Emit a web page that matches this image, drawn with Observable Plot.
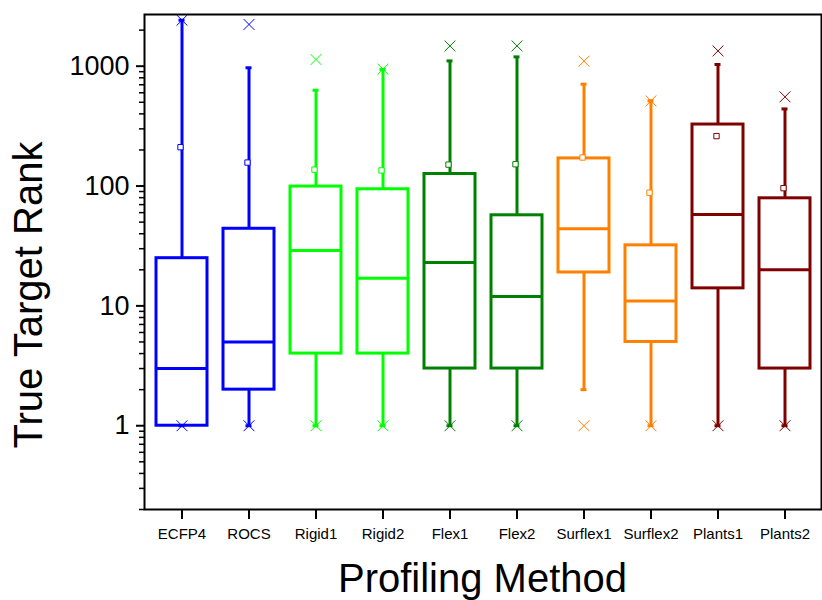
<!DOCTYPE html>
<html>
<head>
<meta charset="utf-8">
<script src="https://cdn.jsdelivr.net/npm/d3@7"></script>
<script src="https://cdn.jsdelivr.net/npm/@observablehq/plot@0.6"></script>
<style>
  html, body { margin: 0; padding: 0; background: white; }
</style>
</head>
<body>
<div id="chart"></div>
<script>
const categories = ["ECFP4","ROCS","Rigid1","Rigid2","Flex1","Flex2","Surflex1","Surflex2","Plants1","Plants2"];
const colors = ["#0000ff","#0000ff","#00ff00","#00ff00","#008000","#008000","#ff8000","#ff8000","#800000","#800000"];
const whiskerLow  = [1, 1, 1, 1, 1, 1, 2, 1, 1, 1];
const q1          = [1, 2, 4, 4, 3, 3, 19, 5, 14, 3];
const median      = [3, 5, 29, 17, 23, 12, 44, 11, 58, 20];
const q3          = [25, 44, 99, 94, 126, 57, 170, 32, 326, 79];
const whiskerHigh = [2420, 970, 630, 940, 1107, 1196, 708, 515, 1033, 440];
const meanVal     = [211, 157, 137, 135, 151, 152, 173, 88, 261, 96];
const minVal      = [1, 1, 1, 1, 1, 1, 1, 1, 1, 1];
const maxVal      = [2420, 2230, 1137, 944, 1477, 1477, 1101, 514, 1342, 555];

const majorTicks = [1, 10, 100, 1000];
const minorTicks = [];
for (const p of [0.1, 1, 10, 100, 1000]) for (let k = 2; k <= 9; k++) {
  const v = k * p; if (v >= 0.2 && v <= 2700) minorTicks.push(v);
}
const xTitle = "Profiling Method";
const yTitle = "True Target Rank";

const rows = categories.map((c, i) => ({
  cat: c, color: colors[i], lo: whiskerLow[i], q1: q1[i], med: median[i],
  q3: q3[i], hi: whiskerHigh[i], mean: meanVal[i], min: minVal[i], max: maxVal[i]
}));

const W = 822, H = 600;
const capInset = 30.5;

const svg = Plot.plot({
  width: W, height: H,
  marginLeft: 144, marginRight: 1, marginTop: 14, marginBottom: 91,
  style: { fontFamily: "'Liberation Sans', Arial, sans-serif", background: "white", color: "black" },
  x: { type: "band", domain: categories, padding: 0, label: null },
  y: { type: "log", domain: [0.2, 2700], label: null },
  color: { type: "identity" },
  marks: [
    Plot.ruleX(rows, { x: "cat", y1: "q3", y2: "hi", stroke: "color", strokeWidth: 3 }),
    Plot.ruleX(rows, { x: "cat", y1: "lo", y2: "q1", stroke: "color", strokeWidth: 3 }),
    Plot.tickY(rows, { x: "cat", y: "hi", stroke: "color", strokeWidth: 3, insetLeft: capInset, insetRight: capInset }),
    Plot.tickY(rows, { x: "cat", y: "lo", stroke: "color", strokeWidth: 3, insetLeft: capInset, insetRight: capInset }),
    Plot.barY(rows, { x: "cat", y1: "q1", y2: "q3", fill: "white", stroke: "color", strokeWidth: 3, insetLeft: 8, insetRight: 8 }),
    Plot.tickY(rows, { x: "cat", y: "med", stroke: "color", strokeWidth: 3, insetLeft: 8, insetRight: 8 }),
    Plot.dot(rows, { x: "cat", y: "mean", symbol: "square", r: 3, fill: "white", stroke: "color", strokeWidth: 1, dx: -1.5 }),
    Plot.dot(rows, { x: "cat", y: "max", symbol: "times", r: 5, stroke: "color", strokeWidth: 1 }),
    Plot.dot(rows, { x: "cat", y: "min", symbol: "times", r: 5, stroke: "color", strokeWidth: 1 }),
    Plot.axisY(minorTicks, { tickSize: 5, tickFormat: () => "", strokeWidth: 1.5, label: null }),
    Plot.axisY(majorTicks, { tickSize: 8, tickPadding: 7, tickFormat: d => String(d), fontSize: 27, strokeWidth: 2, label: null }),
    Plot.axisX({ tickSize: 10, tickPadding: 9, fontSize: 15, strokeWidth: 2, label: null }),
    Plot.frame({ stroke: "black", strokeWidth: 2 })
  ]
});

const s = d3.select(svg);
s.append("text")
  .attr("x", (144 + (W - 1)) / 2).attr("y", 592)
  .attr("text-anchor", "middle")
  .attr("font-size", 40).attr("fill", "black")
  .text(xTitle);
s.append("text")
  .attr("transform", "translate(42,295) rotate(-90)")
  .attr("text-anchor", "middle")
  .attr("font-size", 40).attr("fill", "black")
  .text(yTitle);

document.getElementById("chart").appendChild(svg);
</script>
</body>
</html>
